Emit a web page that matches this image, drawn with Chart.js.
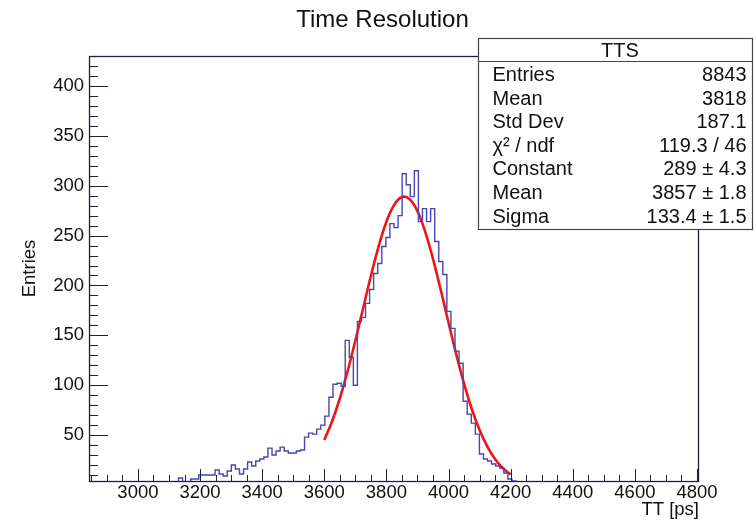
<!DOCTYPE html>
<html>
<head>
<meta charset="utf-8">
<title>Time Resolution</title>
<script src="https://cdn.jsdelivr.net/npm/chart.js@4.4.1/dist/chart.umd.min.js"></script>
<style>
  body { margin: 0; background: #fff; }
  #wrap { width: 754px; height: 525px; }
</style>
</head>
<body>
<div id="wrap"><canvas id="ttsChart" width="754" height="525"></canvas></div>
<script>
// histogram binning (150 bins)
const binLow = 2842.5
const binWidth = 13.093

// counts per bin
const counts = [
  0, 0, 0, 0, 0, 0, 0, 0, 0, 0, 0, 0, 0, 0, 0, 2, 0, 0, 0, 0,
  0, 0, 7, 1, 0, 6, 6, 10, 10, 10, 10, 15, 11, 9, 14, 20, 16, 11, 16, 23,
  19, 24, 26, 28, 37, 30, 34, 38, 34, 32, 32, 34, 35, 48, 52, 51, 56, 60, 69, 88,
  101, 102, 99, 145, 128, 100, 164, 168, 182, 196, 212, 222, 239, 248, 262, 258, 270, 312, 301, 289,
  315, 264, 277, 264, 277, 244, 224, 211, 174, 157, 134, 122, 84, 71, 62, 51, 31, 26, 24, 21,
  19, 17, 12, 6, 4, 1, 0, 0, 0, 0, 0, 0, 0, 0, 0, 0, 0, 0, 0, 0,
  0, 0, 0, 0, 0, 0, 0, 0, 0, 0, 0, 0, 0, 0, 0, 0, 0, 0, 0, 0,
  0, 0, 0, 0, 0, 0, 0, 0, 0, 0
]

// gaussian fit curve (red)
const fitX = [3600, 3625, 3650, 3675, 3700, 3725, 3750, 3775, 3800, 3825, 3850, 3875, 3900,
              3925, 3950, 3975, 4000, 4025, 4050, 4075, 4100, 4125, 4150, 4175, 4200]
const fitY = [45.2, 63.7, 86.7, 114.0, 144.6, 177.1, 209.5, 239.2, 263.8, 280.8, 288.6, 286.4, 274.4,
              253.8, 226.7, 195.4, 162.7, 130.8, 101.5, 76.0, 55.0, 38.4, 25.9, 16.9, 10.6]

// axis tick labels
const xTicks = [3000, 3200, 3400, 3600, 3800, 4000, 4200, 4400, 4600, 4800]
const yTicks = [50, 100, 150, 200, 250, 300, 350, 400]

// stats box
const statsTitle = 'TTS'
const statsLabels = ['Entries', 'Mean', 'Std Dev', 'χ² / ndf', 'Constant', 'Mean', 'Sigma']
const statsValues = ['8843', '3818', '187.1', '119.3 / 46', '289 ± 4.3', '3857 ± 1.8', '133.4 ± 1.5']

const FONT = '"Liberation Sans", Arial, Helvetica, sans-serif'

// step outline: each bin from its low edge, plus closing point at last high edge
const histPoints = counts.map((c, i) => ({x: binLow + i * binWidth, y: c}))
histPoints.push({x: binLow + counts.length * binWidth, y: counts[counts.length - 1]})
const fitPoints = fitX.map((x, i) => ({x: x, y: fitY[i]}))

// ROOT style frame: inward ticks, box, stats panel
const rootFrame = {
  id: 'rootFrame',
  afterDatasetsDraw(chart) {
    const ctx = chart.ctx
    const a = chart.chartArea
    const x = chart.scales.x
    const y = chart.scales.y
    ctx.save()
    ctx.strokeStyle = '#1e1e46'
    ctx.lineWidth = 1
    ctx.beginPath()
    for (let v = Math.ceil(x.min / 50) * 50; v <= x.max; v += 50) {
      const px = Math.round(x.getPixelForValue(v)) + 0.5
      const len = v % 200 === 0 ? 12 : 6
      ctx.moveTo(px, a.bottom)
      ctx.lineTo(px, a.bottom - len)
    }
    for (let v = Math.ceil(y.min / 10) * 10; v <= y.max; v += 10) {
      const py = Math.round(y.getPixelForValue(v)) + 0.5
      const len = v % 50 === 0 ? 19 : 9
      ctx.moveTo(a.left, py)
      ctx.lineTo(a.left + len, py)
    }
    ctx.stroke()
    ctx.lineWidth = 1.3
    ctx.strokeRect(a.left + 0.5, a.top + 0.5, a.right - a.left - 1, a.bottom - a.top)

    // stats box
    const bx = a.right - 221, by = a.top - 18, bw = 275, bh = 191
    ctx.fillStyle = '#fff'
    ctx.fillRect(bx, by, bw, bh)
    ctx.strokeStyle = '#444'
    ctx.lineWidth = 1.2
    ctx.strokeRect(bx + 0.5, by + 0.5, bw - 1, bh)
    ctx.beginPath()
    ctx.moveTo(bx, by + 23.5)
    ctx.lineTo(bx + bw, by + 23.5)
    ctx.stroke()
    ctx.fillStyle = '#111'
    ctx.font = '20px ' + FONT
    ctx.textBaseline = 'middle'
    ctx.textAlign = 'center'
    ctx.fillText(statsTitle, bx + 142, by + 13.5)
    statsLabels.forEach((lab, i) => {
      const ry = by + 37.5 + i * 23.6
      ctx.textAlign = 'left'
      ctx.fillText(lab, bx + 14.5, ry)
      ctx.textAlign = 'right'
      ctx.fillText(statsValues[i], bx + 268.5, ry)
    })
    ctx.restore()
  }
}

const ctx = document.getElementById('ttsChart').getContext('2d')
const ttsChart = new Chart(ctx, {
  type: 'scatter',
  data: {
    datasets: [{
      label: 'TTS',
      data: histPoints,
      showLine: true,
      stepped: true,
      borderColor: '#4646b4',
      borderWidth: 1.4,
      pointRadius: 0,
      clip: 0
    }, {
      label: 'fit',
      data: fitPoints,
      showLine: true,
      tension: 0.4,
      borderColor: '#f01414',
      borderWidth: 2.6,
      pointRadius: 0
    }]
  },
  options: {
    responsive: false,
    animation: false,
    devicePixelRatio: 1,
    layout: { padding: { left: 11, right: 0, top: 0, bottom: 0 } },
    plugins: {
      legend: { display: false },
      tooltip: { enabled: false },
      title: {
        display: true,
        text: 'Time Resolution',
        color: '#111',
        font: { family: FONT, size: 24, weight: 'normal', lineHeight: 1.2 },
        padding: { top: 5.6, bottom: 21.6 }
      }
    },
    scales: {
      x: {
        type: 'linear',
        min: 2842.5,
        max: 4806.4,
        afterFit: (s) => { s.height = 44 },
        afterBuildTicks: (s) => { s.ticks = xTicks.map(v => ({value: v})) },
        grid: { display: false, drawTicks: false },
        border: { display: false },
        ticks: {
          autoSkip: false,
          padding: 1,
          color: '#111',
          font: { family: FONT, size: 18.5 },
          maxRotation: 0,
          callback: (v) => v
        },
        title: {
          display: true,
          text: 'TT [ps]',
          align: 'end',
          color: '#111',
          font: { family: FONT, size: 18.5 },
          padding: { top: 0, bottom: 3.8 }
        }
      },
      y: {
        type: 'linear',
        min: 4,
        max: 430,
        afterFit: (s) => { s.width = 78 },
        afterBuildTicks: (s) => { s.ticks = yTicks.map(v => ({value: v})) },
        grid: { display: false, drawTicks: false },
        border: { display: false },
        ticks: {
          autoSkip: false,
          padding: 5,
          color: '#111',
          font: { family: FONT, size: 18.5 }
        },
        title: {
          display: true,
          text: 'Entries',
          color: '#111',
          font: { family: FONT, size: 18.5 },
          padding: { top: 7.8, bottom: 0 }
        }
      },
      yRight: {
        type: 'linear',
        position: 'right',
        afterFit: (s) => { s.width = 55 },
        grid: { display: false, drawTicks: false },
        border: { display: false },
        ticks: { display: false }
      }
    }
  },
  plugins: [rootFrame]
})
</script>
</body>
</html>
